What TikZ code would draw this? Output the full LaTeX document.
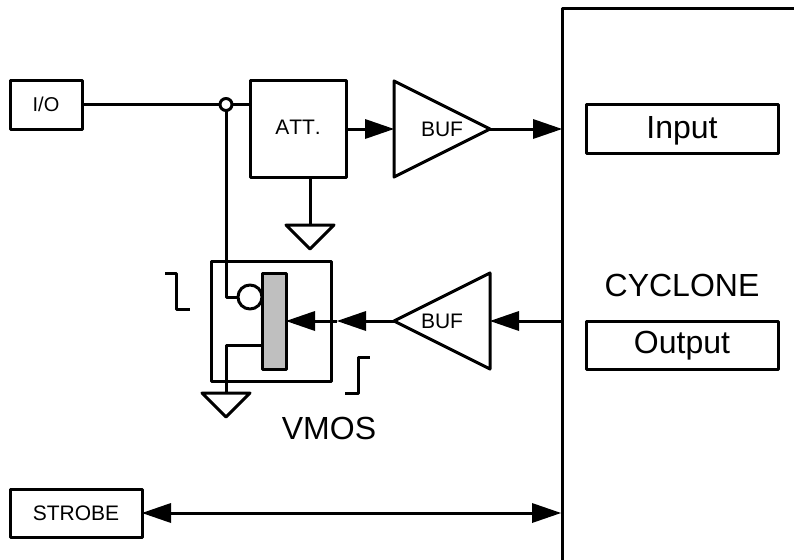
\documentclass[tikz,border=0pt]{standalone}
\usepackage{fontspec}
\setmainfont[Kerning=Off]{Liberation Sans}
\usetikzlibrary{arrows.meta}
\tikzset{
  wire/.style={line width=3pt,line join=round},
  box/.style={draw,line width=3pt,rectangle,inner sep=0pt,outer sep=0pt,line join=round},
  big/.style={font=\fontsize{32}{34}\selectfont,inner sep=0pt},
  small/.style={font=\fontsize{21}{23}\selectfont,inner sep=0pt},
  head/.style={-{Triangle[length=29pt,width=20pt,line width=0pt]}},
  dhead/.style={{Triangle[length=29pt,width=20pt,line width=0pt]}-{Triangle[length=29pt,width=20pt,line width=0pt]}},
}
\begin{document}
\begin{tikzpicture}[x=1pt,y=-1pt]
\useasboundingbox (0,0) rectangle (794,559);
% boxes
\node[box,small,minimum width=72pt,minimum height=48pt,font=\fontsize{20}{22}\selectfont,text height=14pt,text depth=0pt] (io) at (46,105) {I/O};
\node[box,small,minimum width=96pt,minimum height=96pt,text height=12pt,text depth=0pt] (att) at (298,129) {ATT.};
\node[box,big,minimum width=192pt,minimum height=48pt,text height=19.4pt,text depth=0pt] (input) at (682,129) {Input};
\node[box,big,minimum width=192pt,minimum height=48pt,text height=16.6pt,text depth=0pt] (output) at (682,345) {Output};
\node[box,small,minimum width=132pt,minimum height=48pt] (strobe) at (76,513) {STROBE};
\node[box,minimum width=120pt,minimum height=120pt] (vmos) at (271,321) {};
\node[box,fill=black!25,minimum width=24pt,minimum height=96pt] (gate) at (274,321) {};
\node[box,circle,fill=white,minimum size=24pt] (ring) at (250,297) {};
% chip outline
\coordinate (chipTR) at (794,9);
\coordinate (chipTL) at (562,9);
\coordinate (chipBL) at (562,562);
\draw[wire] (chipTR) -- (chipTL) -- (chipBL);
% buffers
\coordinate (b1l) at (394,129);
\coordinate (b1r) at (490,129);
\draw[wire] (394,81) -- (490,129) -- (394,177) -- cycle;
\node[small] (b1t) at (442,129) {BUF};
\coordinate (b2l) at (394,321);
\coordinate (b2r) at (490,321);
\draw[wire] (490,273) -- (394,321) -- (490,369) -- cycle;
\node[small] (b2t) at (442,321) {BUF};
% grounds
\coordinate (g1) at (310,225);
\draw[wire] (286,225) -- (334,225) -- (310,249) -- cycle;
\coordinate (g2) at (226,393);
\draw[wire] (202,393) -- (250,393) -- (226,417) -- cycle;
% connectors
\coordinate (junc) at (226,104.5);
\coordinate (chipIn) at (562,129);
\coordinate (chipOut) at (562,321);
\coordinate (chipSt) at (561,513);
\coordinate (midArrow) at (337,321);
\draw[wire] (io.east |- junc) -- (att.west |- junc);
\draw[wire] (junc) |- (ring.west);
\draw[wire] (g2) |- (gate.west |- 0,345);
\draw[wire] (att.south -| g1) -- (g1);
\draw[wire,head] (att.east) -- (b1l);
\draw[wire,head] (b1r) -- (chipIn);
\draw[wire,head] (chipOut) -- (b2r);
\draw[wire,head] (b2l) -- (midArrow);
\draw[wire,head] (midArrow) -- (gate.east);
\draw[wire,dhead] (strobe.east) -- (chipSt);
\node[box,circle,fill=white,minimum size=12pt] (jdot) at (junc) {};
% step symbols
\coordinate (fa) at (165,273);
\coordinate (fb) at (176,273);
\coordinate (fc) at (176,309);
\coordinate (fd) at (190,309);
\draw[wire] (fa) -- (fb) -- (fc) -- (fd);
\coordinate (ra) at (345,393);
\coordinate (rb) at (358,393);
\coordinate (rc) at (358,357);
\coordinate (rd) at (370,357);
\draw[wire] (ra) -- (rb) -- (rc) -- (rd);
% labels
\node[big] (cyc) at (682,285) {CYCLONE};
\node[big] (vm) at (329,428) {VMOS};
\end{tikzpicture}
\end{document}
